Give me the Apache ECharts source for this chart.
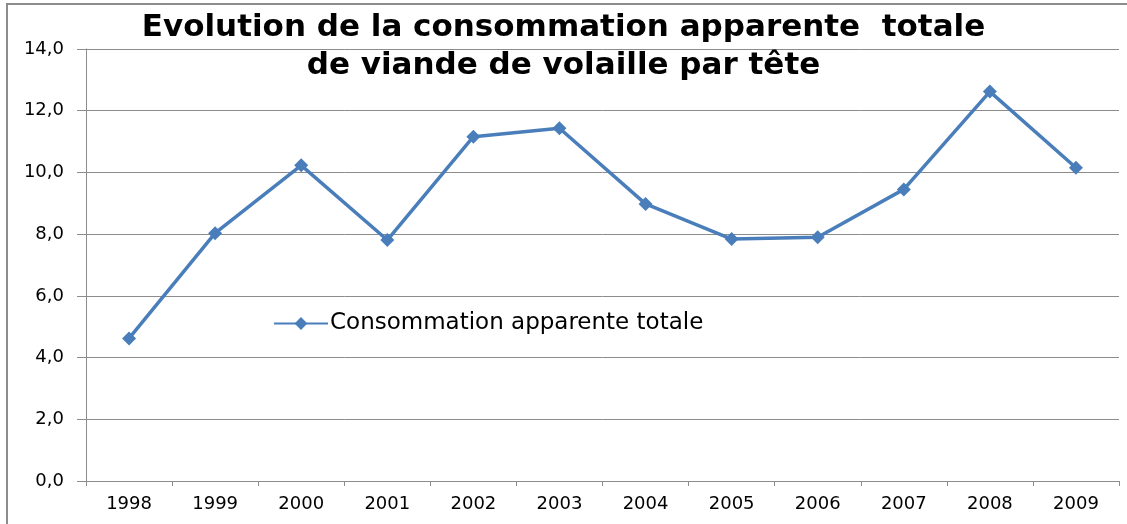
<!DOCTYPE html>
<html>
<head>
<meta charset="utf-8">
<script src="https://cdn.jsdelivr.net/npm/echarts@6/dist/echarts.min.js"></script>
<style>
html,body{margin:0;padding:0;background:#fff;}
#c{width:1127px;height:524px;}
</style>
</head>
<body>
<div id="c"></div>
<script>
const titleLines = ["Evolution de la consommation apparente  totale", "de viande de volaille par tête"];
const categories = ["1998","1999","2000","2001","2002","2003","2004","2005","2006","2007","2008","2009"];
const seriesName = "Consommation apparente totale";
const values = [4.62, 8.03, 10.23, 7.81, 11.16, 11.43, 8.98, 7.84, 7.90, 9.45, 12.62, 10.15];
const yMin = 0, yMax = 14, yStep = 2;

const chart = echarts.init(document.getElementById('c'), null, {renderer:'canvas'});
chart.setOption({
  backgroundColor: '#ffffff',
  animation: false,
  textStyle: {fontFamily: 'DejaVu Sans'},
  title: {
    text: titleLines.join('\n'),
    left: 'center',
    top: 4,
    textStyle: {fontFamily: 'DejaVu Sans', fontWeight: 'bold', fontSize: 31, lineHeight: 38, color: '#000'}
  },
  graphic: [{
    type: 'rect',
    silent: true,
    shape: {x: 7, y: 4, width: 1200, height: 600},
    style: {fill: 'none', stroke: '#8c8c8c', lineWidth: 2}
  }],
  legend: {
    left: 268,
    top: 307,
    itemWidth: 54,
    itemHeight: 16,
    itemGap: 10,
    textStyle: {fontFamily: 'DejaVu Sans', fontSize: 23, color: '#000', padding: [0,0,0,-3]},
    data: [seriesName]
  },
  grid: {left: 86, right: 8, top: 49, bottom: 43, containLabel: false},
  xAxis: {
    type: 'category',
    data: categories,
    boundaryGap: true,
    axisLine: {lineStyle: {color: '#8c8c8c', width: 1}},
    axisTick: {show: true, length: 5, alignWithLabel: false, lineStyle: {color: '#8c8c8c'}},
    axisLabel: {fontFamily: 'DejaVu Sans', fontSize: 18, color: '#000', margin: 14},
    splitLine: {show: false}
  },
  yAxis: {
    type: 'value',
    min: yMin, max: yMax, interval: yStep,
    axisLine: {show: true, lineStyle: {color: '#8c8c8c', width: 1}},
    axisTick: {show: true, length: 9, lineStyle: {color: '#8c8c8c'}},
    axisLabel: {fontFamily: 'DejaVu Sans', fontSize: 18, color: '#000', margin: 22,
      formatter: v => v.toFixed(1).replace('.', ',')},
    splitLine: {show: true, lineStyle: {color: '#8c8c8c', width: 1}}
  },
  series: [{
    name: seriesName,
    type: 'line',
    data: values,
    symbol: 'diamond',
    symbolSize: 14,
    lineStyle: {color: '#4a7ebb', width: 3.5},
    itemStyle: {color: '#4a7ebb'}
  }]
});
</script>
</body>
</html>
